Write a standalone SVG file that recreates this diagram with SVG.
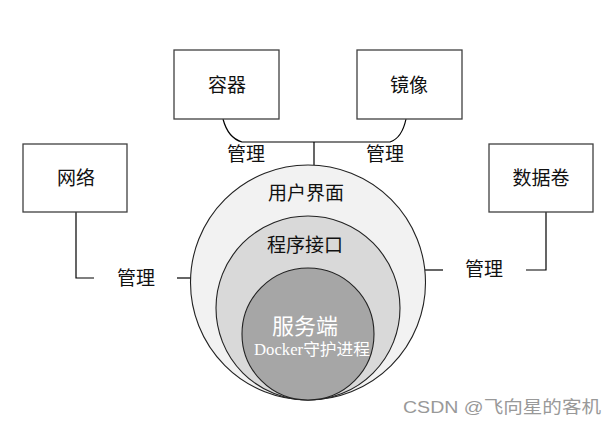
<svg xmlns="http://www.w3.org/2000/svg" width="611" height="425" viewBox="0 0 611 425">
<style>
.box{fill:#fff;stroke:#404040;stroke-width:1.3}
.ln{fill:none;stroke:#000;stroke-width:1.2}
.t{font-family:"Liberation Serif","Noto Sans CJK SC",serif;font-size:19px;fill:#111;text-anchor:middle;dominant-baseline:central}
.c{stroke:#222;stroke-width:1.1}
</style>
<rect width="611" height="425" fill="#fff"/>
<g id="connectors">
<path class="ln" d="M223,119 Q228,138 242,142 L390,142 Q402,138 406,119"/>
<path class="ln" d="M314,142 V165"/>
<path class="ln" d="M76,212 V278 H94"/>
<path class="ln" d="M177,278 H191"/>
<path class="ln" d="M546,212 V270 H526"/>
<path class="ln" d="M443,270 H425"/>
<text class="t" x="246" y="154">管理</text>
<text class="t" x="385" y="154">管理</text>
<text class="t" x="136" y="278">管理</text>
<text class="t" x="484" y="269">管理</text>
</g>
<g id="rongqi"><rect class="box" x="174" y="50" width="105" height="69"/><text class="t" x="227" y="85">容器</text></g>
<g id="jingxiang"><rect class="box" x="357" y="50" width="105" height="69"/><text class="t" x="409" y="85">镜像</text></g>
<g id="wangluo"><rect class="box" x="23" y="144" width="104" height="68"/><text class="t" x="76" y="178">网络</text></g>
<g id="shujujuan"><rect class="box" x="489" y="144" width="104" height="68"/><text class="t" x="541" y="178">数据卷</text></g>
<g id="yonghujiemian"><circle class="c" cx="308" cy="282.5" r="117.5" fill="#f2f2f2"/><text class="t" x="306" y="193">用户界面</text></g>
<g id="chengxujiekou"><circle class="c" cx="308" cy="308" r="92" fill="#d9d9d9"/><text class="t" x="305" y="245">程序接口</text></g>
<g id="fuwuduan"><circle class="c" cx="308" cy="334" r="66" fill="#a6a6a6"/>
<text class="t" x="305" y="326" style="font-size:22px;fill:#fff">服务端</text>
<text class="t" x="312" y="349" style="font-size:16px;fill:#fff" textLength="116" lengthAdjust="spacingAndGlyphs">Docker守护进程</text></g>
<text x="502" y="407" textLength="198" lengthAdjust="spacingAndGlyphs" style="font-family:'Liberation Sans','Noto Sans CJK SC',sans-serif;font-size:17px;fill:#999;text-anchor:middle;dominant-baseline:central">CSDN @飞向星的客机</text>
</svg>
